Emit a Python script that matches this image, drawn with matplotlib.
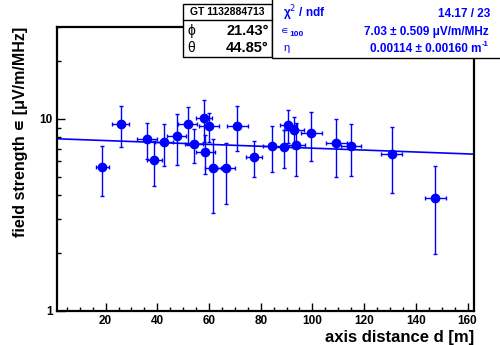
import numpy as np
import matplotlib
matplotlib.use('Agg')
import matplotlib.pyplot as plt
from matplotlib.patches import Rectangle
from matplotlib.lines import Line2D
from matplotlib.ticker import FixedLocator, NullFormatter, FixedFormatter

plt.rcParams['font.family'] = ['Liberation Sans', 'DejaVu Sans']

# measured points: axis distance d [m] and field strength
distance = [18.7, 25.9, 36.0, 38.9, 42.5, 47.5, 51.7, 54.2, 58.0, 59.9, 58.5, 61.6, 66.4,
            71.0, 77.4, 84.3, 89.0, 90.6, 92.9, 93.6, 99.6, 109.3, 114.9, 130.6, 147.6]
distance_err = [2.5, 3.3, 3.7, 3.0, 3.5, 3.7, 3.6, 3.5, 3.0, 3.9, 3.7, 3.0, 3.5,
                4.0, 3.0, 3.5, 3.5, 3.3, 3.9, 3.7, 4.0, 4.0, 3.8, 4.0, 4.0]
field = [5.58, 9.39, 7.85, 6.09, 7.53, 8.18, 9.36, 7.38, 10.04, 9.15, 6.73, 5.56, 5.56,
         9.22, 6.34, 7.25, 7.14, 9.30, 8.70, 7.28, 8.44, 7.50, 7.18, 6.57, 3.85]
field_err = [1.60, 2.26, 1.68, 1.60, 1.84, 2.46, 2.10, 1.47, 2.47, 1.60, 1.55, 2.31, 1.96,
             2.41, 1.34, 1.95, 1.62, 1.82, 1.55, 2.22, 2.43, 2.52, 2.16, 2.47, 1.86]

# fit parameters: eps(d) = eps100 * exp(-eta * (d - 100))
eps100 = 7.03
eta = 0.00114

blue = '#0000ff'

fig = plt.figure(figsize=(5.0, 3.45), dpi=100)
ax = fig.add_axes([0.114, 0.0986, 0.834, 0.823])

ax.errorbar(distance, field, xerr=distance_err, yerr=field_err, fmt='o', color=blue,
            ms=6, elinewidth=1.0, capsize=1.5, capthick=1.0, mec=blue, mfc=blue)

xs = np.linspace(1.2, 162.5, 200)
ax.plot(xs, eps100 * np.exp(-eta * (xs - 100)), color=blue, lw=1.2)

ax.set_yscale('log')
ax.set_xlim(1.2, 162.5)
ax.set_ylim(1, 30)

ax.xaxis.set_major_locator(FixedLocator(range(20, 161, 20)))
ax.xaxis.set_minor_locator(FixedLocator([v for v in range(5, 161, 5) if v % 20]))
ax.yaxis.set_major_locator(FixedLocator([1, 10]))
ax.yaxis.set_major_formatter(FixedFormatter(['1', '10']))
ax.yaxis.set_minor_locator(FixedLocator([2, 3, 4, 5, 6, 7, 8, 9, 20, 30]))
ax.yaxis.set_minor_formatter(NullFormatter())

ax.tick_params(which='both', direction='in', top=False, right=False, width=1.0)
ax.tick_params(which='major', length=6, labelsize=8.5, pad=3)
ax.tick_params(which='minor', length=3)
for lab in ax.get_xticklabels() + ax.get_yticklabels():
    lab.set_fontweight('bold')

for sp in ax.spines.values():
    sp.set_linewidth(1.6)

ax.set_xlabel('axis distance d [m]', fontsize=12, fontweight='bold', loc='right', labelpad=2)
ax.set_ylabel('field strength \u220a [\u03bcV/m/MHz]', fontsize=11.5, fontweight='bold',
              loc='top', labelpad=8)

# info boxes at the top
W, H = 500.0, 345.0
def fx(p):
    return p / W
def fy(p):
    return 1 - p / H

fig.add_artist(Rectangle((fx(183), fy(57)), fx(272) - fx(183), fy(4) - fy(57),
                         transform=fig.transFigure, fc='white', ec='black', lw=1.0, zorder=5))
fig.add_artist(Rectangle((fx(272), fy(58)), fx(520) - fx(272), fy(-10) - fy(58),
                         transform=fig.transFigure, fc='white', ec='black', lw=1.0, zorder=5,
                         clip_on=False))
fig.add_artist(Line2D([fx(183), fx(272)], [fy(20), fy(20)], transform=fig.transFigure,
                      color='black', lw=1.0, zorder=6))

fig.text(fx(227), fy(12), 'GT 1132884713', fontsize=7.5, fontweight='bold',
         ha='center', va='center', zorder=7)
fig.text(fx(187), fy(31), '\u03d5', fontsize=10, ha='left', va='center', zorder=7)
fig.text(fx(269), fy(31), '21.43\u00b0', fontsize=10.5, fontweight='bold',
         ha='right', va='center', zorder=7)
fig.text(fx(187), fy(48), '\u03b8', fontsize=10, ha='left', va='center', zorder=7)
fig.text(fx(269), fy(48), '44.85\u00b0', fontsize=10.5, fontweight='bold',
         ha='right', va='center', zorder=7)

fig.text(fx(283), fy(13), '\u03c7$^2$ / ndf', fontsize=8.5, fontweight='bold', color=blue,
         ha='left', va='center', zorder=7)
fig.text(fx(490), fy(14), '14.17 / 23', fontsize=8.5, fontweight='bold', color=blue,
         ha='right', va='center', zorder=7)
fig.text(fx(281), fy(31), '\u220a', fontsize=7.5, color=blue, ha='left', va='center', zorder=7)
fig.text(fx(289), fy(34), '100', fontsize=6, fontweight='bold', color=blue,
         ha='left', va='center', zorder=7)
fig.text(fx(489), fy(32), '7.03 \u00b1 0.509 \u03bcV/m/MHz', fontsize=8.5, fontweight='bold',
         color=blue, ha='right', va='center', zorder=7)
fig.text(fx(283), fy(48), '\u03b7', fontsize=8, color=blue, ha='left', va='center', zorder=7)
fig.text(fx(481), fy(49), '0.00114 \u00b1 0.00160 m', fontsize=8.5,
         fontweight='bold', color=blue, ha='right', va='center', zorder=7)
fig.text(fx(482), fy(45), '-1', fontsize=5.5, fontweight='bold', color=blue,
         ha='left', va='center', zorder=7)

fig.savefig('out.png', dpi=100)
